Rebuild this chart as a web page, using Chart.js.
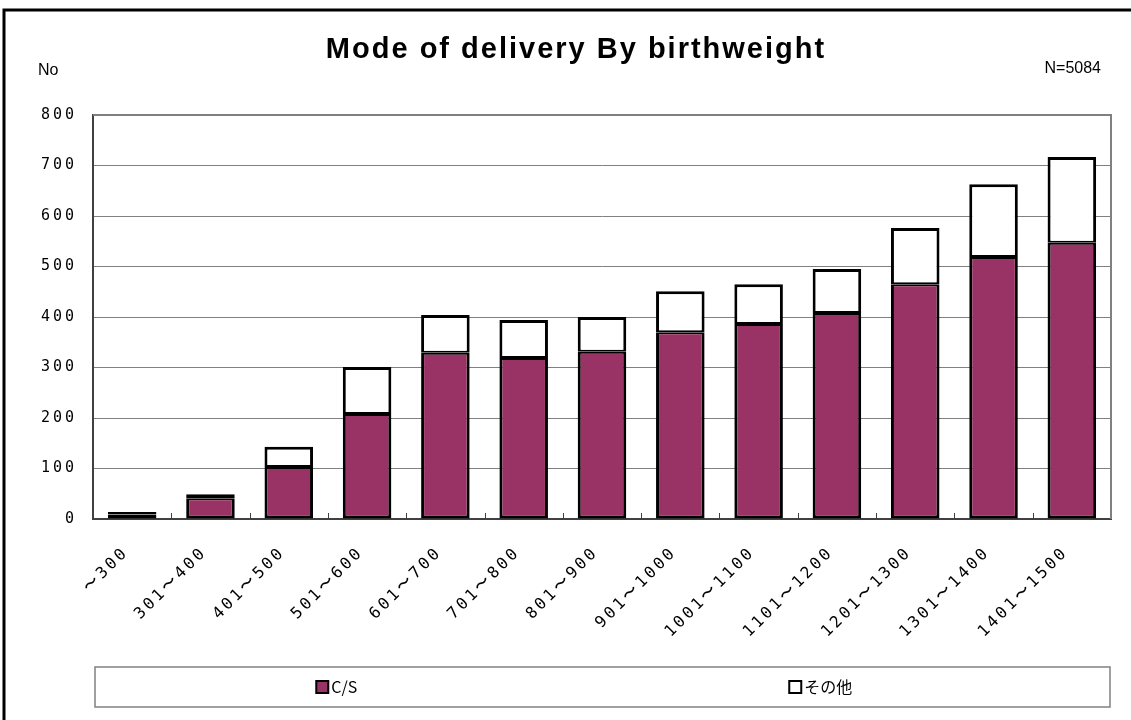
<!DOCTYPE html>
<html>
<head>
<meta charset="utf-8">
<script src="https://cdn.jsdelivr.net/npm/chart.js@4.4.1/dist/chart.umd.min.js"></script>
<style>
html, body { margin: 0; padding: 0; background: #fff; }
</style>
</head>
<body>
<canvas id="chart" width="1131" height="720"></canvas>
<script>
// data
var categories = ['〜300', '301〜400', '401〜500', '501〜600', '601〜700', '701〜800', '801〜900',
    '901〜1000', '1001〜1100', '1101〜1200', '1201〜1300', '1301〜1400', '1401〜1500'];
var csValues = [9, 41, 103, 208, 329, 319, 331, 370, 386, 408, 465, 519, 547];
var otherValues = [5, 8, 40, 93, 75, 75, 69, 81, 79, 87, 111, 144, 170];
var yTicks = [0, 100, 200, 300, 400, 500, 600, 700, 800];
var seriesNames = ['C/S', 'その他'];
var titleText = 'Mode of delivery By birthweight';
var yUnitText = 'No';
var totalText = 'N=5084';

var monoFont = '"DejaVu Sans Mono", monospace';

// frame, titles, inner ticks and legend box
var framePlugin = {
    id: 'frame',
    beforeDraw: function(chart) {
        var ctx = chart.ctx;
        ctx.fillStyle = '#fff';
        ctx.fillRect(0, 0, chart.width, chart.height);
        ctx.strokeStyle = '#000';
        ctx.lineWidth = 3;
        ctx.strokeRect(4, 10, chart.width + 20, chart.height + 20);
        // wide spacing for the axis labels (reset before bars)
        ctx.letterSpacing = '3px';
    },
    beforeDatasetsDraw: function(chart) {
        var ctx = chart.ctx;
        var a = chart.chartArea;
        ctx.letterSpacing = '0px';
        ctx.save();
        ctx.strokeStyle = '#808080';
        ctx.lineWidth = 2;
        ctx.beginPath();
        ctx.moveTo(a.left, a.top);
        ctx.lineTo(a.right, a.top);
        ctx.lineTo(a.right, a.bottom);
        ctx.stroke();
        // small ticks between categories, pointing up
        var xs = chart.scales.x;
        ctx.strokeStyle = '#404040';
        ctx.lineWidth = 1;
        ctx.beginPath();
        for (var i = 1; i < categories.length; i++) {
            var px = Math.round((xs.getPixelForTick(i - 1) + xs.getPixelForTick(i)) / 2) + 0.5;
            ctx.moveTo(px, a.bottom);
            ctx.lineTo(px, a.bottom - 6);
        }
        ctx.stroke();
        ctx.restore();
    },
    afterDraw: function(chart) {
        var ctx = chart.ctx;
        ctx.save();
        ctx.fillStyle = '#000';
        ctx.textBaseline = 'alphabetic';
        ctx.textAlign = 'center';
        ctx.letterSpacing = '2px';
        ctx.font = 'bold 29px "Liberation Sans", Arial, sans-serif';
        ctx.fillText(titleText, 576, 58);
        ctx.letterSpacing = '0px';
        ctx.font = '16px "Liberation Sans Narrow", "Liberation Sans", sans-serif';
        ctx.textAlign = 'left';
        ctx.fillText(yUnitText, 38, 75);
        ctx.textAlign = 'right';
        ctx.fillText(totalText, 1101, 73);

        // legend box
        var bx = 95, by = 667, bw = 1015, bh = 40;
        ctx.strokeStyle = '#808080';
        ctx.lineWidth = 1.5;
        ctx.strokeRect(bx, by, bw, bh);
        var starts = [0.218, 0.684];
        chart.data.datasets.forEach(function(ds, i) {
            var x = bx + bw * starts[i];
            var cy = by + bh / 2;
            ctx.fillStyle = ds.backgroundColor;
            ctx.fillRect(x, cy - 6, 12, 12);
            ctx.strokeStyle = '#000';
            ctx.lineWidth = 2;
            ctx.strokeRect(x, cy - 6, 12, 12);
            ctx.fillStyle = '#000';
            ctx.textAlign = 'left';
            ctx.textBaseline = 'middle';
            ctx.font = '16px "Noto Sans CJK JP", sans-serif';
            ctx.fillText(ds.label, x + 15, cy);
        });
        ctx.restore();
    }
};

var ctx = document.getElementById('chart').getContext('2d');
new Chart(ctx, {
    type: 'bar',
    data: {
        labels: categories,
        datasets: [{
            label: seriesNames[0],
            data: csValues,
            backgroundColor: '#993366',
            borderColor: '#000',
            borderWidth: { left: 3, right: 3, bottom: 3, top: 2 },
            borderSkipped: false,
            barPercentage: 0.62,
            categoryPercentage: 1
        }, {
            label: seriesNames[1],
            data: otherValues,
            backgroundColor: '#ffffff',
            borderColor: '#000',
            borderWidth: { left: 3, right: 3, bottom: 2, top: 3 },
            borderSkipped: false,
            barPercentage: 0.62,
            categoryPercentage: 1
        }]
    },
    options: {
        responsive: false,
        animation: false,
        layout: { padding: { left: 0, right: 20, top: 115, bottom: 60 } },
        plugins: {
            legend: { display: false },
            title: { display: false },
            tooltip: { enabled: false }
        },
        scales: {
            x: {
                stacked: true,
                grid: { display: false },
                border: { display: true, color: '#404040', width: 2 },
                ticks: {
                    autoSkip: false,
                    minRotation: 45,
                    maxRotation: 45,
                    padding: 16,
                    labelOffset: -6,
                    color: '#000',
                    font: { family: monoFont, size: 16 }
                },
                afterFit: function(s) { s.height = 141; }
            },
            y: {
                stacked: true,
                min: 0,
                max: 800,
                afterBuildTicks: function(s) {
                    s.ticks = yTicks.map(function(v) { return { value: v }; });
                },
                grid: { color: '#808080', lineWidth: 1, drawTicks: false },
                border: { display: true, color: '#404040', width: 2 },
                ticks: {
                    padding: 16,
                    color: '#000',
                    font: { family: monoFont, size: 15 }
                },
                afterFit: function(s) { s.width = 93; }
            }
        }
    },
    plugins: [framePlugin]
});
</script>
</body>
</html>
